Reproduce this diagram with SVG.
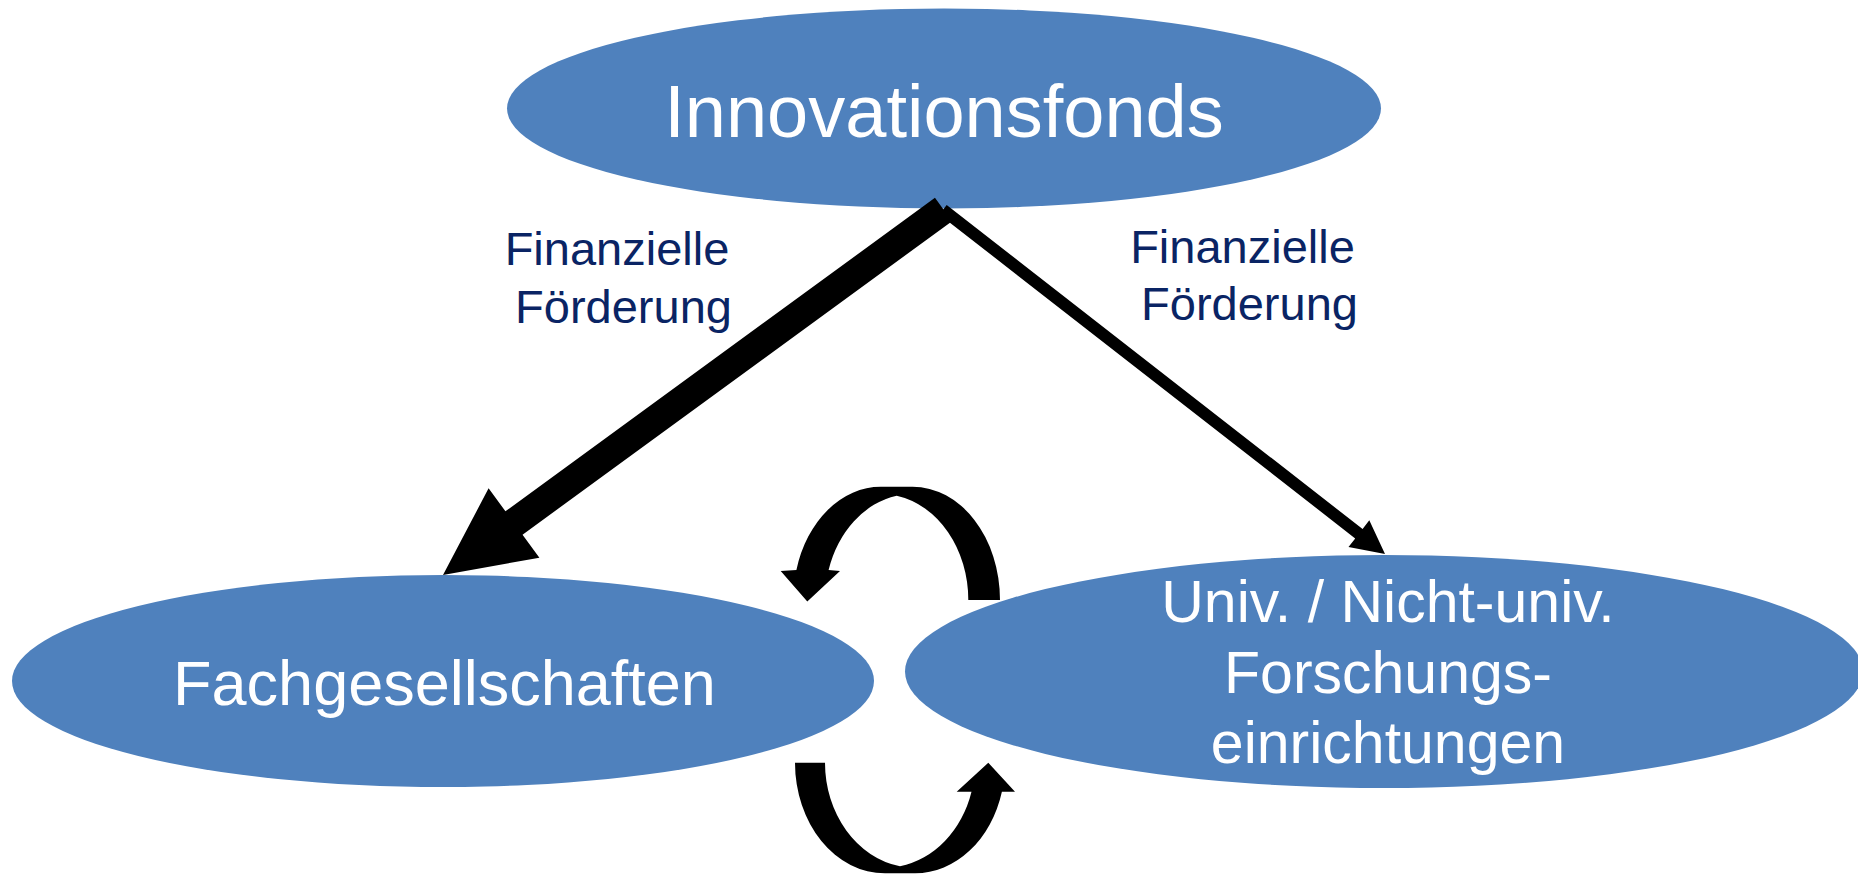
<svg xmlns="http://www.w3.org/2000/svg" width="1858" height="876" viewBox="0 0 1858 876">
<style>
.node{fill:#4F81BD;}
.nt{font-family:"Liberation Sans",Arial,sans-serif;fill:#FFFFFF;text-anchor:middle;}
.lbl{font-family:"Liberation Sans",Arial,sans-serif;fill:#0A2464;font-size:47px;text-anchor:middle;}
.arr{fill:#000000;stroke:none;}
</style>
<rect width="1858" height="876" fill="#FFFFFF"/>
<g id="node-innovationsfonds">
<ellipse class="node" cx="944" cy="108.5" rx="437" ry="100"/>
<text class="nt" x="944" y="137" font-size="74">Innovationsfonds</text>
</g>
<g id="node-fachgesellschaften">
<ellipse class="node" cx="443" cy="681" rx="431" ry="106"/>
<text class="nt" x="444.5" y="705" font-size="63">Fachgesellschaften</text>
</g>
<g id="node-forschung">
<ellipse class="node" cx="1384" cy="671.5" rx="479" ry="116.5"/>
<text class="nt" font-size="59"><tspan x="1388" y="622">Univ. / Nicht-univ.</tspan><tspan x="1388" y="693">Forschungs-</tspan><tspan x="1388" y="763">einrichtungen</tspan></text>
</g>
<g id="connectors">
<polygon class="arr" points="934.95,197.8 952.05,221.2 522.55,534.7 539.4,557.7 443,575 488.6,488.3 505.45,511.3"/>
<polygon class="arr" points="946.7,205 1362.6,529 1369.3,520.3 1385,554 1348.5,547.1 1355.2,538.4 939.3,214.4"/>
<path class="arr" d="M1000,600 A87.5 113.3 0 0 0 912.5,486.7 L880.8,486.7 A87.5 113.3 0 0 0 796.4,570 L780.7,571 L807.3,601.5 L840,571 L828.6,570 A87.5 106 0 0 1 896.7,495.7 A87.5 106 0 0 1 968.3,600 Z"/>
<path class="arr" d="M795,762.7 A90 110.6 0 0 0 885,873.3 L915,873.3 A90 110.6 0 0 0 1001.9,791.7 L1015,791.7 L988.3,762.7 L956.7,791.7 L971.5,791.7 A90 105 0 0 1 900,866.2 A90 105 0 0 1 825,762.7 Z"/>
<text class="lbl"><tspan x="617" y="265">Finanzielle</tspan><tspan x="623.5" y="323">Förderung</tspan></text>
<text class="lbl"><tspan x="1242.5" y="263">Finanzielle</tspan><tspan x="1249.5" y="320">Förderung</tspan></text>
</g>
</svg>
